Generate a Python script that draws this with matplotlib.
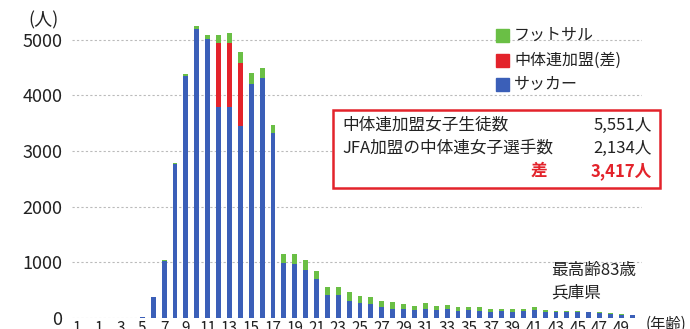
import numpy as np
import matplotlib
matplotlib.use("Agg")
import matplotlib.pyplot as plt
from matplotlib.patches import Rectangle

plt.rcParams['font.family'] = ['Noto Sans CJK JP', 'DejaVu Sans']

# ages -1 .. 50 (one bar per age)
ages = list(range(-1, 51))

soccer = [0, 0, 0, 0, 0, 0, 20, 370, 1020, 2760, 4350, 5190, 5020, 3800, 3800, 3450,
          4210, 4310, 3320, 985, 965, 863, 700, 414, 410, 311, 276, 252, 198, 168,
          168, 150, 170, 150, 156, 130, 135, 125, 115, 120, 115, 120, 140, 110, 105,
          110, 105, 100, 90, 80, 60, 50]
# gap only at ages 12-14
chutairen_gap = [0] * 13 + [1145, 1140, 1132] + [0] * 36
futsal = [0, 0, 0, 0, 0, 0, 0, 0, 20, 25, 40, 50, 70, 140, 180, 200,
          190, 190, 150, 160, 180, 180, 145, 138, 140, 151, 126, 126, 108, 114,
          90, 72, 95, 66, 80, 70, 68, 65, 55, 50, 45, 40, 50, 30, 25,
          20, 20, 15, 15, 10, 10, 5]

xtick_labels = ["1", "1", "3", "5", "7", "9", "11", "13", "15", "17", "19", "21", "23",
                "25", "27", "29", "31", "33", "35", "37", "39", "41", "43", "45", "47", "49"]

summary_labels = ["中体連加盟女子生徒数", "JFA加盟の中体連女子選手数", "差"]
summary_values = ["5,551人", "2,134人", "3,417人"]

blue = "#3b5fb8"
red = "#e3232b"
green = "#6abf45"

W, H = 690, 329
fig = plt.figure(figsize=(W / 100, H / 100), dpi=100)


def fx(x):
    return x / W


def fy(y):
    return 1 - y / H


ax = fig.add_axes([fx(72), fy(318), fx(642) - fx(72), fy(12) - fy(318)])

x = np.array(ages)
s = np.array(soccer)
r = np.array(chutairen_gap)
g = np.array(futsal)
bw = 0.45
ax.bar(x, s, width=bw, color=blue, linewidth=0, zorder=3)
ax.bar(x, r, width=bw, bottom=s, color=red, linewidth=0, zorder=3)
ax.bar(x, g, width=bw, bottom=s + r, color=green, linewidth=0, zorder=3)

ax.set_xlim(-1.46, 50.9)
ax.set_ylim(0, 5500)
ax.set_yticks([0, 1000, 2000, 3000, 4000, 5000])
ax.set_xticks(x[::2])
ax.set_xticklabels(xtick_labels)
ax.tick_params(axis='y', length=0, pad=7, labelsize=13, labelcolor="#222222")
ax.tick_params(axis='x', length=0, pad=1.5, labelsize=11, labelcolor="#222222")
for sp in ax.spines.values():
    sp.set_visible(False)
ax.yaxis.grid(True, linestyle=(0, (2, 2)), color="#bbbbbb", linewidth=0.8, zorder=0)
ax.set_axisbelow(True)

fig.text(fx(28), fy(20), "(人)", fontsize=13, va='center', ha='left', color="#222222")
fig.text(fx(646), fy(324), "(年齢)", fontsize=11, va='center', ha='left', color="#222222")

# legend
leg_items = [("フットサル", green, 35), ("中体連加盟(差)", red, 60), ("サッカー", blue, 84)]
for label, c, yc in leg_items:
    fig.patches.append(Rectangle((fx(496), fy(yc + 6.5)), fx(13), fy(0) - fy(13),
                                 transform=fig.transFigure, color=c))
    fig.text(fx(514), fy(yc), label, fontsize=11.5, va='center', ha='left', color="#222222")

# summary box
fig.patches.append(Rectangle((fx(333), fy(188)), fx(660) - fx(333), fy(110) - fy(188),
                             transform=fig.transFigure, facecolor='white',
                             edgecolor=red, linewidth=1.8, zorder=5))
rows_y = [125, 148, 171]
for i, (lab, val) in enumerate(zip(summary_labels, summary_values)):
    if i < 2:
        fig.text(fx(342), fy(rows_y[i]), lab, fontsize=12, va='center', ha='left',
                 color="#222222", zorder=6)
        fig.text(fx(652), fy(rows_y[i]), val, fontsize=12, va='center', ha='right',
                 color="#222222", zorder=6)
    else:
        fig.text(fx(547), fy(rows_y[i]), lab, fontsize=12, va='center', ha='right',
                 color=red, fontweight='bold', zorder=6)
        fig.text(fx(652), fy(rows_y[i]), val, fontsize=12, va='center', ha='right',
                 color=red, fontweight='bold', zorder=6)

fig.text(fx(551), fy(271), "最高齢83歳", fontsize=12, va='center', ha='left', color="#222222")
fig.text(fx(551), fy(293), "兵庫県", fontsize=12, va='center', ha='left', color="#222222")

fig.savefig("out.png", dpi=100)
